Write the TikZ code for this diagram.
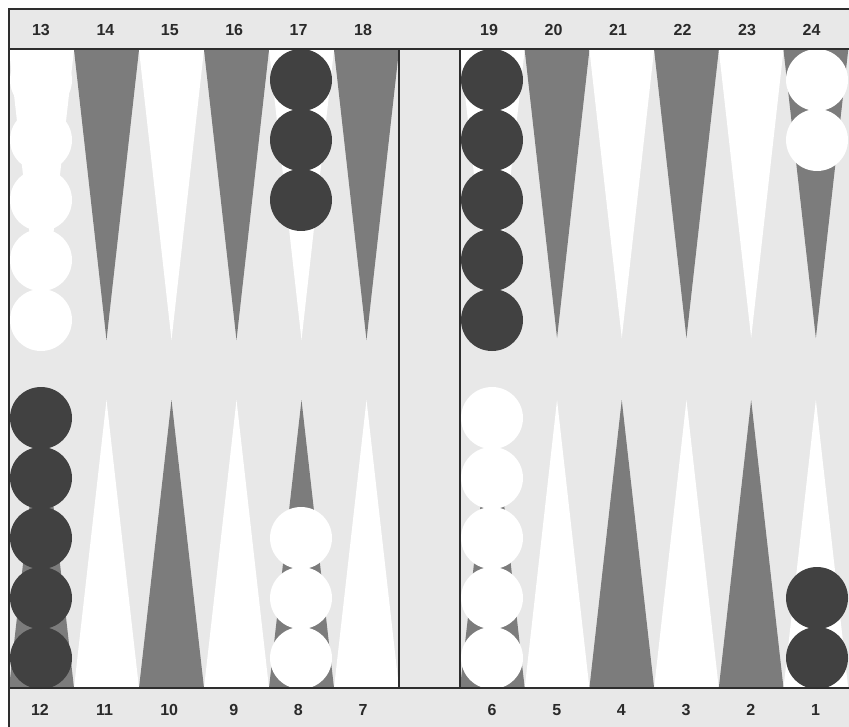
\documentclass[tikz,border=0pt]{standalone}
\usepackage{fontspec}
\setmainfont{Liberation Sans}
\begin{document}
\begin{tikzpicture}[x=0.75pt,y=-0.75pt,
  boardbg/.style={fill=bgc},
  ptwhite/.style={fill=white},
  ptgray/.style={fill=ptc},
  darkck/.style={fill=ckc},
  whiteck/.style={fill=white},
  frame/.style={draw=lnc,line width=1.5pt},
  num/.style={font=\fontsize{12}{14}\selectfont\bfseries,text=numc,inner sep=0pt}]
\definecolor{bgc}{HTML}{E8E8E8}
\definecolor{ptc}{HTML}{7C7C7C}
\definecolor{ckc}{HTML}{414141}
\definecolor{lnc}{HTML}{2E2E2E}
\definecolor{numc}{HTML}{2A2A2A}
\useasboundingbox (0,0) rectangle (849,727);
\fill[white] (0,0) rectangle (849,727);
\fill[bgc] (9,9) rectangle (849,727);
% top points
\foreach \i/\s in {0/ptwhite,1/ptgray,2/ptwhite,3/ptgray,4/ptwhite,5/ptgray}{
  \path[\s] ({9+65*\i},50) -- ({9+65*(\i+1)},50) -- ({9+65*\i+32.5},340) -- cycle;
  \path[\s] ({460+64.7*\i},50) -- ({460+64.7*(\i+1)},50) -- ({460+64.7*\i+32.35},338) -- cycle;
}
% bottom points
\foreach \i/\s in {0/ptgray,1/ptwhite,2/ptgray,3/ptwhite,4/ptgray,5/ptwhite}{
  \path[\s] ({9+65*\i},688) -- ({9+65*(\i+1)},688) -- ({9+65*\i+32.5},400) -- cycle;
  \path[\s] ({460+64.7*\i},688) -- ({460+64.7*(\i+1)},688) -- ({460+64.7*\i+32.35},400) -- cycle;
}
% checkers
\foreach \y in {80,140,200,260,320}{
  \path[whiteck] (41,\y) circle (31);
  \path[darkck] (492,\y) circle (31);
}
\foreach \y in {80,140,200}{\path[darkck] (301,\y) circle (31);}
\foreach \y in {80,140}{\path[whiteck] (817,\y) circle (31);}
\foreach \y in {418,478,538,598,658}{
  \path[darkck] (41,\y) circle (31);
  \path[whiteck] (492,\y) circle (31);
}
\foreach \y in {538,598,658}{\path[whiteck] (301,\y) circle (31);}
\foreach \y in {598,658}{\path[darkck] (817,\y) circle (31);}
% frame lines
\draw[frame] (849,9.5) -- (9,9.5) -- (9,727);
\draw[frame] (9,49.5) -- (849,49.5);
\draw[frame] (9,688) -- (849,688);
\draw[frame] (399,49.5) -- (399,688);
\draw[frame] (460,49.5) -- (460,688);
% numbers
\foreach \n [count=\k from 0] in {13,14,15,16,17,18}{
  \node[num] (t\n) at ({41-0.6*\k+65*\k},30) {\n};}
\foreach \n [count=\k from 0] in {19,20,21,22,23,24}{
  \node[num] (t\n) at ({489+64.5*\k},30) {\n};}
\foreach \n [count=\k from 0] in {12,11,10,9,8,7}{
  \node[num] (b\n) at ({40+64.6*\k},710) {\n};}
\foreach \n [count=\k from 0] in {6,5,4,3,2,1}{
  \node[num] (b\n) at ({492+64.7*\k},710) {\n};}
\end{tikzpicture}
\end{document}
